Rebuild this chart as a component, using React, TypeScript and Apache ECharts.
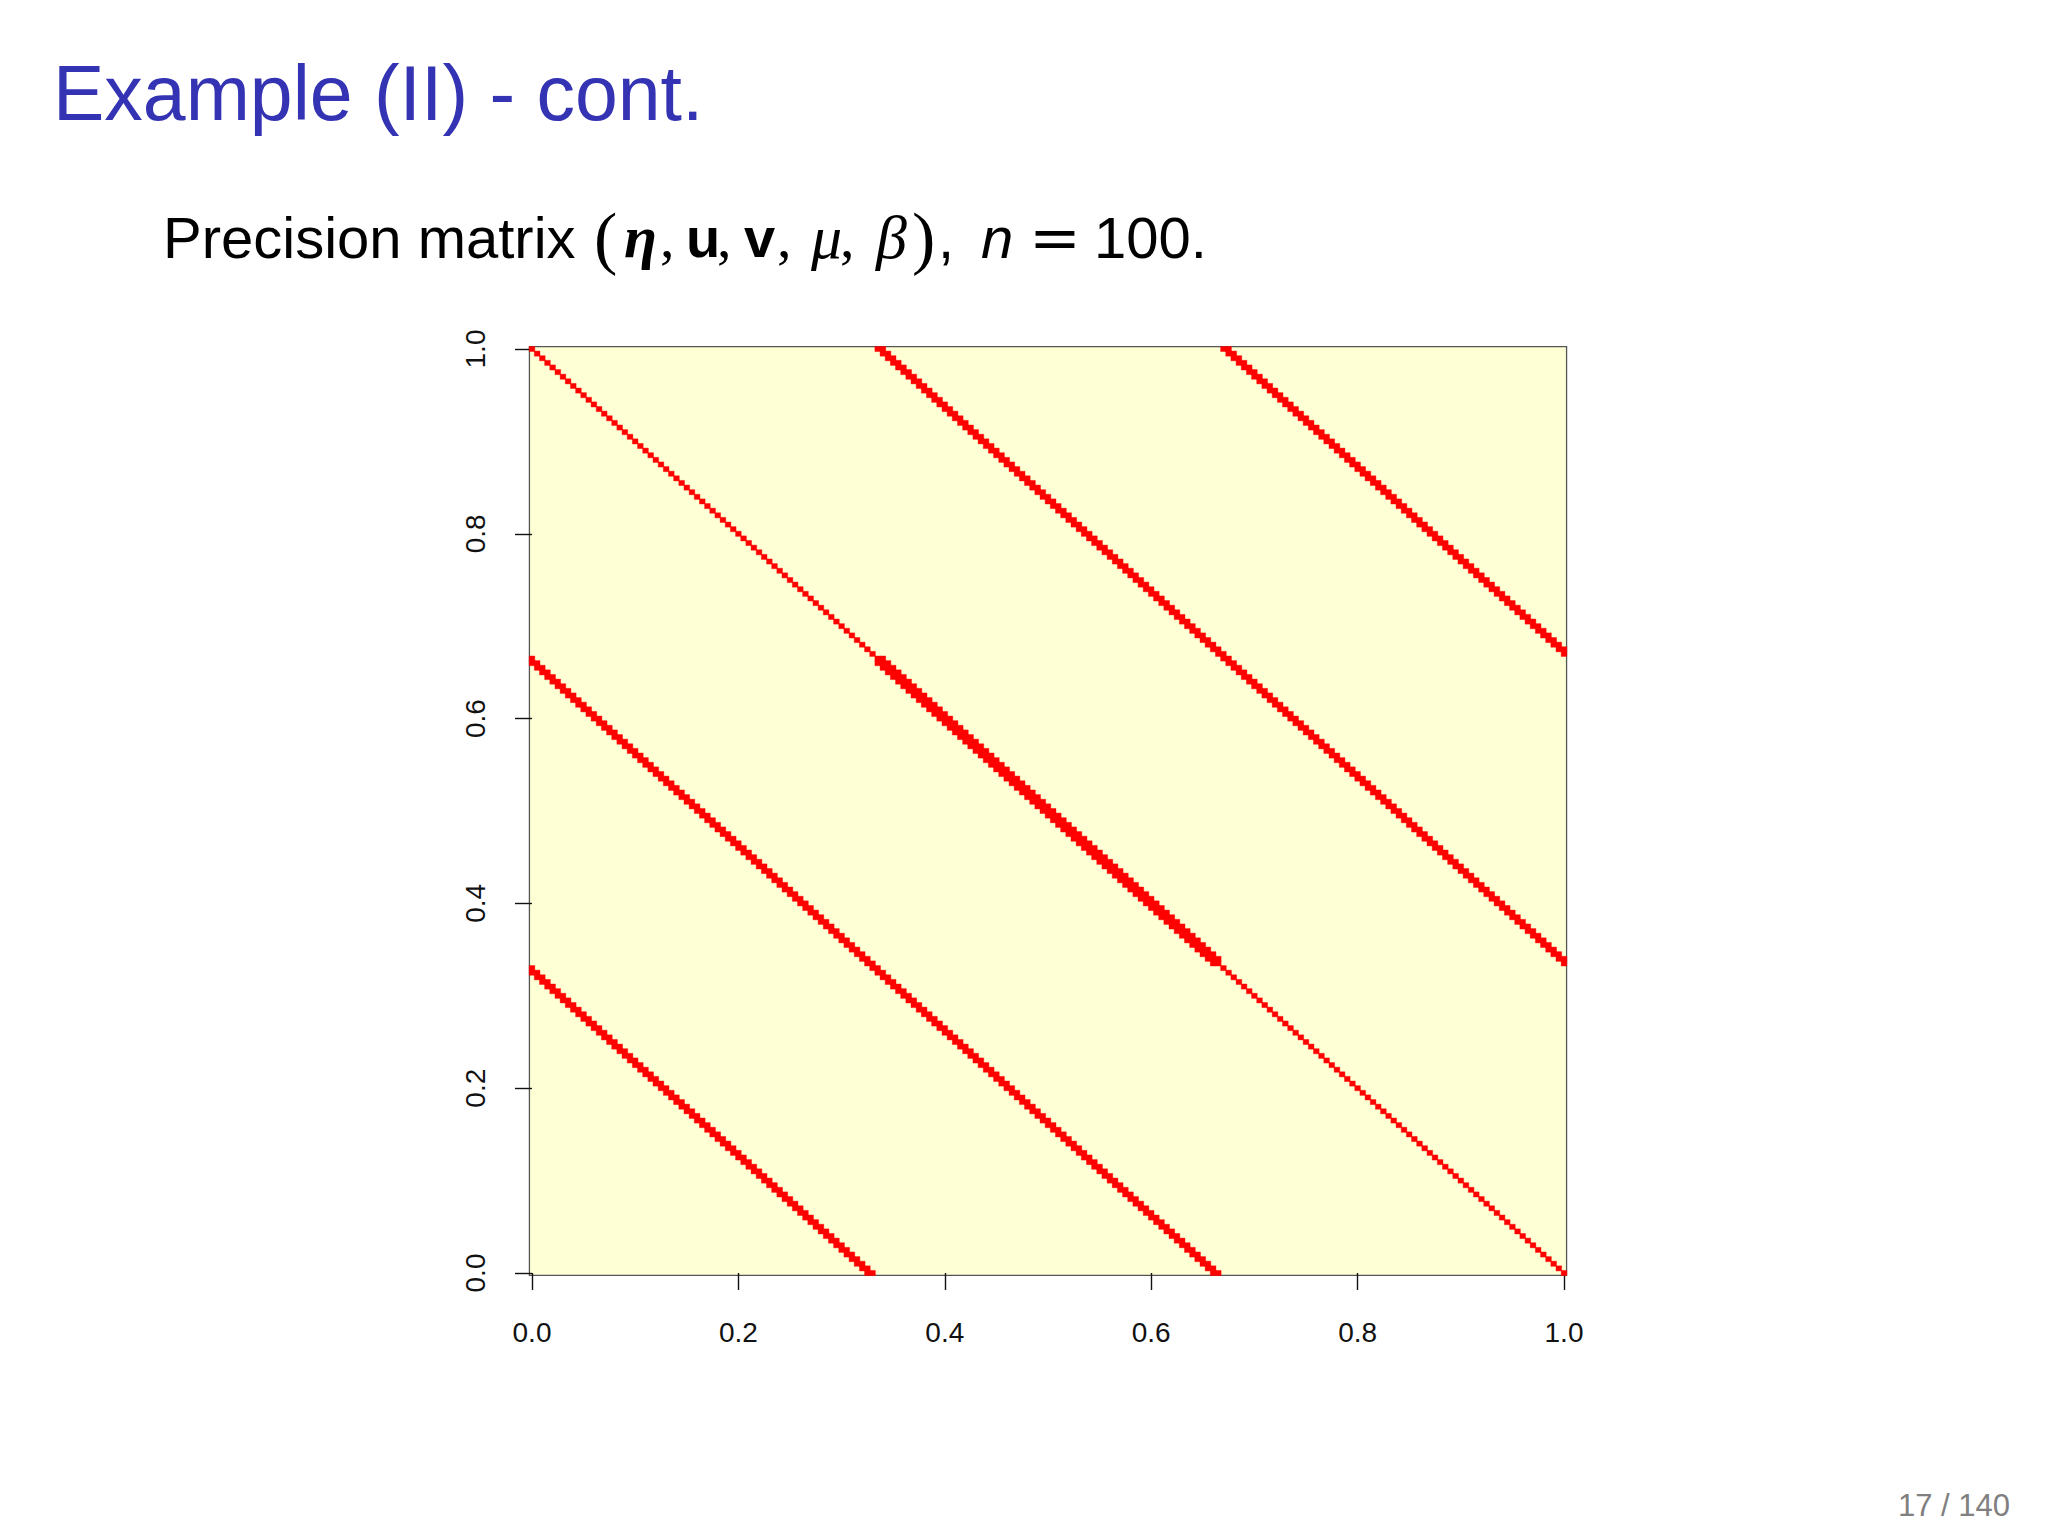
import React, { useEffect, useRef } from 'react';
import * as echarts from 'echarts';

// ---- data ----
// Sparsity pattern of the displayed precision matrix (symmetric):
// each band = cells (i, i + offset) for rows firstRow..lastRow, mirrored.
const MATRIX_SIZE = 201;
const bandOffset = [0, 1, 67, 68, 134, 135];
const bandFirstRow = [0, 67, 0, 0, 0, 0];
const bandLastRow = [200, 132, 133, 132, 66, 65];
const bandValue = [1, 1, 1, 1, 1, 1];

const axisMin = 0;
const axisMax = 1;
const axisStep = 0.2;

const titleText = 'Example (II) - cont.';
const pageText = '17 / 140';
// subtitle pieces: text and kind
const subtitleText = ['Precision matrix ', '(', 'η', ',', 'u', ',', 'v', ',', 'μ', ',', 'β', ')', ',', 'n', '=', '100.'];
const subtitleKind = ['t', 'p', 'eta', 'c', 'b', 'c', 'b', 'c', 'gi', 'c', 'gi', 'p', 't', 'ni', 'eq', 't'];

// ---- layout / style ----
const SANS = "'Liberation Sans', Arial, sans-serif";
const SERIF = "'Liberation Serif', 'DejaVu Serif', serif";
const AX_LEFT = 532;
const AX_TOP = 349;
const AX_W = 1032;
const AX_H = 924;
// advance (px) given to each subtitle piece so that they sit where the slide has them
const subtitleAdvance = [431, 30, 36, 26, 31, 27, 33, 34, 29, 36, 36, 26, 43, 48, 65, 0];

const kindStyle: Record<string, any> = {
  t: { fontFamily: SANS, fontSize: 58 },
  p: { fontFamily: SERIF, fontSize: 70 },
  eta: { fontFamily: SERIF, fontSize: 60, fontStyle: 'italic', fontWeight: 'bold' },
  c: { fontFamily: SERIF, fontSize: 58 },
  b: { fontFamily: SANS, fontSize: 56, fontWeight: 'bold' },
  gi: { fontFamily: SERIF, fontSize: 62, fontStyle: 'italic' },
  ni: { fontFamily: SANS, fontSize: 58, fontStyle: 'italic' },
  eq: { fontFamily: "'DejaVu Serif', 'Liberation Serif', serif", fontSize: 62 },
};

function buildCells(): number[][] {
  const cells: number[][] = [];
  for (let b = 0; b < bandOffset.length; b++) {
    const off = bandOffset[b];
    for (let i = bandFirstRow[b]; i <= bandLastRow[b]; i++) {
      cells.push([i, i + off, bandValue[b]]);
      if (off > 0) cells.push([i + off, i, bandValue[b]]);
    }
  }
  return cells;
}

function buildSubtitle() {
  const rich: Record<string, any> = {};
  let text = '';
  subtitleText.forEach((s, k) => {
    const name = 's' + k;
    const st: any = { ...kindStyle[subtitleKind[k]], fill: '#000' };
    if (subtitleAdvance[k] > 0) st.width = subtitleAdvance[k];
    rich[name] = st;
    text += '{' + name + '|' + s + '}';
  });
  return { text, rich };
}

export default function App() {
  const ref = useRef<HTMLDivElement>(null);

  useEffect(() => {
    if (!ref.current) return;
    const chart = echarts.init(ref.current, null, { renderer: 'svg' });
    const half = 0.5 / (MATRIX_SIZE - 1);
    const cellIndex = Array.from({ length: MATRIX_SIZE }, (_, k) => String(k));
    const fmt = (v: number) => v.toFixed(1);
    const sub = buildSubtitle();

    const option: any = {
      animation: false,
      backgroundColor: '#ffffff',
      grid: [
        {
          show: true,
          left: AX_LEFT - AX_W * half,
          top: AX_TOP - AX_H * half,
          width: AX_W * (1 + 2 * half),
          height: AX_H * (1 + 2 * half),
          backgroundColor: '#FFFFD5',
          borderColor: '#555555',
          borderWidth: 1.3,
        },
        {
          show: false,
          left: AX_LEFT,
          top: AX_TOP,
          width: AX_W,
          height: AX_H,
        },
      ],
      xAxis: [
        {
          type: 'category',
          gridIndex: 0,
          data: cellIndex,
          show: false,
        },
        {
          type: 'value',
          gridIndex: 1,
          min: axisMin,
          max: axisMax,
          interval: axisStep,
          position: 'bottom',
          offset: 4,
          axisLine: { show: false },
          axisTick: { show: true, length: 17, lineStyle: { color: '#111', width: 1.4 } },
          splitLine: { show: false },
          axisLabel: {
            margin: 41,
            fontSize: 28,
            fontFamily: SANS,
            color: '#111',
            formatter: fmt,
          },
        },
      ],
      yAxis: [
        {
          type: 'category',
          gridIndex: 0,
          data: cellIndex,
          inverse: true,
          show: false,
        },
        {
          type: 'value',
          gridIndex: 1,
          min: axisMin,
          max: axisMax,
          interval: axisStep,
          position: 'left',
          offset: 4,
          axisLine: { show: false },
          axisTick: { show: true, length: 17, lineStyle: { color: '#111', width: 1.4 } },
          splitLine: { show: false },
          axisLabel: {
            rotate: 90,
            margin: 39,
            fontSize: 28,
            fontFamily: SANS,
            color: '#111',
            formatter: fmt,
          },
        },
      ],
      visualMap: {
        show: false,
        type: 'continuous',
        seriesIndex: 0,
        min: 0,
        max: 1,
        inRange: { color: ['#FF0000', '#FF0000'] },
      },
      series: [
        {
          type: 'heatmap',
          xAxisIndex: 0,
          yAxisIndex: 0,
          data: buildCells(),
          itemStyle: { borderColor: '#FF0000', borderWidth: 0.4 },
          emphasis: { disabled: true },
        },
      ],
      graphic: [
        {
          type: 'text',
          x: 53,
          y: 93,
          style: {
            text: titleText,
            fontFamily: SANS,
            fontSize: 77,
            fill: '#3333B3',
            verticalAlign: 'middle',
          },
        },
        {
          type: 'text',
          x: 163,
          y: 237,
          style: {
            text: sub.text,
            verticalAlign: 'middle',
            fontFamily: SANS,
            fontSize: 58,
            fill: '#000',
            rich: sub.rich,
          },
        },
        {
          type: 'text',
          x: 2010,
          y: 1505,
          style: {
            text: pageText,
            fontFamily: SANS,
            fontSize: 31,
            fill: '#808080',
            align: 'right',
            verticalAlign: 'middle',
          },
        },
      ],
    };

    chart.setOption(option);
    return () => chart.dispose();
  }, []);

  return (
    <div
      ref={ref}
      style={{ position: 'fixed', left: 0, top: 0, width: 2048, height: 1536, background: '#fff' }}
    />
  );
}
